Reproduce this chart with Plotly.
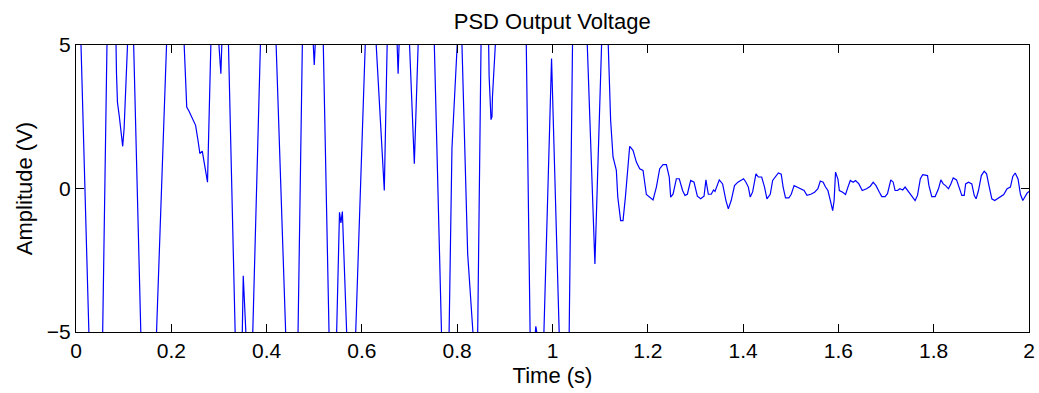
import plotly.graph_objects as go

time_s = [
    0.0, 0.0105, 0.027, 0.042, 0.056, 0.065, 0.075, 0.084, 0.085, 0.087, 0.091, 0.094, 0.098, 0.101,
    0.106, 0.113, 0.121, 0.136, 0.152, 0.169, 0.19, 0.208, 0.227, 0.2324, 0.237, 0.244, 0.251,
    0.256, 0.260, 0.265, 0.276, 0.283, 0.293, 0.300, 0.304, 0.306, 0.313, 0.32, 0.334, 0.340,
    0.349, 0.351, 0.355, 0.362, 0.371, 0.387, 0.403, 0.42, 0.44, 0.453, 0.466, 0.475, 0.487,
    0.498, 0.50, 0.502, 0.51, 0.519, 0.531, 0.539, 0.547, 0.553, 0.556, 0.559, 0.568, 0.577,
    0.587, 0.607, 0.618, 0.63, 0.647, 0.653, 0.665, 0.674, 0.676, 0.678, 0.69, 0.70, 0.71,
    0.718, 0.735, 0.752, 0.767, 0.775, 0.783, 0.789, 0.80, 0.805, 0.81, 0.822, 0.833, 0.838,
    0.843, 0.85, 0.858, 0.866, 0.867, 0.869, 0.871, 0.873, 0.874, 0.88, 0.895, 0.909, 0.925,
    0.945, 0.953, 0.959, 0.963, 0.965, 0.967, 0.975, 0.982, 0.998, 1.014, 1.025, 1.035, 1.042,
    1.058, 1.073, 1.089, 1.103, 1.11, 1.117, 1.122, 1.127, 1.134, 1.137, 1.143, 1.148, 1.153,
    1.162, 1.169, 1.176, 1.183, 1.190, 1.197, 1.204, 1.211, 1.218, 1.225, 1.232, 1.239, 1.245,
    1.248, 1.253, 1.260, 1.266, 1.273, 1.278, 1.283, 1.290, 1.297, 1.304, 1.311, 1.318, 1.322,
    1.327, 1.333, 1.338, 1.341, 1.350, 1.357, 1.364, 1.369, 1.375, 1.382, 1.389, 1.396, 1.401,
    1.406, 1.411, 1.415, 1.420, 1.427, 1.432, 1.439, 1.445, 1.450, 1.457, 1.462, 1.469, 1.474,
    1.480, 1.484, 1.489, 1.496, 1.501, 1.507, 1.513, 1.521, 1.528, 1.534, 1.542, 1.550, 1.557,
    1.562, 1.568, 1.573, 1.578, 1.584, 1.588, 1.591, 1.594, 1.599, 1.602, 1.609, 1.615, 1.620,
    1.625, 1.631, 1.636, 1.643, 1.650, 1.659, 1.667, 1.673, 1.679, 1.686, 1.691, 1.698, 1.703,
    1.710, 1.715, 1.719, 1.724, 1.729, 1.735, 1.740, 1.747, 1.754, 1.761, 1.766, 1.772, 1.777,
    1.787, 1.790, 1.796, 1.803, 1.810, 1.815, 1.820, 1.825, 1.831, 1.836, 1.841, 1.848, 1.853,
    1.859, 1.864, 1.867, 1.873, 1.880, 1.885, 1.889, 1.894, 1.900, 1.906, 1.911, 1.916, 1.922,
    1.928, 1.936, 1.947, 1.954, 1.961, 1.966, 1.971, 1.977, 1.982, 1.987, 1.993, 1.996, 2.0,
]

voltage_v = [
    8, 5, -5, -9, -5, 5, 7, 5, 4.0, 3.0, 2.5, 2.14, 1.47, 2.1,
    5, 7, 5, -5, -9, -5, 5, 8, 5, 2.84, 2.7, 2.45, 2.2,
    1.68, 1.22, 1.3, 0.22, 5, 6, 5, 4.0, 5, 6, 5, -5, -8,
    -5, -3.04, -5, -7, -5, 5, 8, 5, -5, -8, -5, 5, 6,
    5, 4.3, 5, 6, 5, -5, -7, -5, -0.83, -1.2, -0.8, -5, -8,
    -5, 5, 7, 5, -0.07, 5, 6, 5, 4.0, 5, 6, 5, 0.86,
    5, 8, 5, -5, -7, -5, 1.4, 5, 6, 5, -2.28, -5, -6,
    -5, 5, 6, 5, 3.9, 2.9, 2.4, 2.5, 3.2, 5, 7, 5.2, 8,
    5, -5, -6, -5, -4.8, -5, -7, -5, 4.53, -5, -8, -5, 5,
    8, 5, -2.63, 5, 6, 5, 2.38, 1.1, 0.63, -0.3, -1.12, -1.12, -0.3,
    1.47, 1.33, 0.92, 0.69, 0.63, -0.21, -0.3, -0.4, 0.05, 0.69, 0.83, 0.83, 0.4,
    -0.3, -0.2, 0.34, 0.34, -0.07, -0.24, -0.2, 0.28, 0.22, -0.27, -0.36, -0.27, 0.3,
    -0.2, -0.2, -0.05, -0.1, 0.3, 0.16, -0.42, -0.71, -0.42, 0.1, 0.22, 0.28, 0.34,
    0.22, 0.05, -0.3, -0.12, 0.51, 0.4, 0.4, 0.05, -0.36, -0.2, 0.28, 0.45, 0.54,
    0.5, 0.05, -0.33, -0.33, -0.2, 0.1, 0.05, 0.0, -0.07, -0.24, -0.2, -0.13, -0.01,
    0.26, 0.22, 0.05, -0.07, -0.48, -0.77, -0.42, 0.57, 0.33, -0.07, -0.13, -0.21, 0.05,
    0.28, 0.22, 0.28, 0.16, -0.07, -0.01, 0.08, 0.22, 0.1, -0.13, -0.28, -0.28, -0.18,
    0.3, 0.22, -0.07, -0.07, -0.01, -0.05, 0.05, -0.1, -0.28, -0.42, -0.24, 0.34, 0.48,
    0.45, 0.1, -0.28, -0.28, -0.01, 0.3, 0.16, 0.1, -0.01, 0.16, 0.37, 0.3, 0.05,
    -0.24, -0.24, 0.16, 0.22, 0.16, -0.24, -0.36, -0.07, 0.45, 0.6, 0.51, 0.1, -0.36,
    -0.42, -0.33, -0.21, -0.01, 0.05, 0.42, 0.54, 0.33, -0.2, -0.42, -0.24, -0.16, -0.1,
]

x_ticks = [0, 0.2, 0.4, 0.6, 0.8, 1.0, 1.2, 1.4, 1.6, 1.8, 2.0]
x_tick_labels = ["0", "0.2", "0.4", "0.6", "0.8", "1", "1.2", "1.4", "1.6", "1.8", "2"]
y_ticks = [-5, 0, 5]
y_tick_labels = ["\u22125", "0", "5"]

font_family = "Liberation Sans, Arial, sans-serif"

fig = go.Figure()
fig.add_trace(go.Scatter(
    x=time_s, y=voltage_v, mode="lines",
    line=dict(color="#0000ff", width=1.2),
    hoverinfo="x+y", showlegend=False,
))

axis_common = dict(
    showgrid=False, zeroline=False, showline=True, linecolor="black", linewidth=1,
    mirror="ticks", ticks="inside", ticklen=8, tickwidth=1, tickcolor="black",
    automargin=False,
    tickfont=dict(family=font_family, size=21, color="black"),
)

fig.update_layout(
    width=1039, height=393,
    margin=dict(l=76, r=10, t=45, b=61),
    paper_bgcolor="white", plot_bgcolor="white",
    title=dict(text="PSD Output Voltage", x=0.5315, xref="container", xanchor="center",
               y=1 - 21 / 393, yref="container", yanchor="middle",
               font=dict(family=font_family, size=22, color="black")),
    xaxis=dict(range=[0, 2], tickvals=x_ticks, ticktext=x_tick_labels,
               title=dict(text="Time (s)", standoff=6,
                          font=dict(family=font_family, size=22, color="black")),
               **axis_common),
    yaxis=dict(range=[-5, 5], tickvals=y_ticks, ticktext=y_tick_labels,
               title=dict(text="Amplitude (V)", standoff=8,
                          font=dict(family=font_family, size=22, color="black")),
               **axis_common),
)

fig.write_html("out.html")
